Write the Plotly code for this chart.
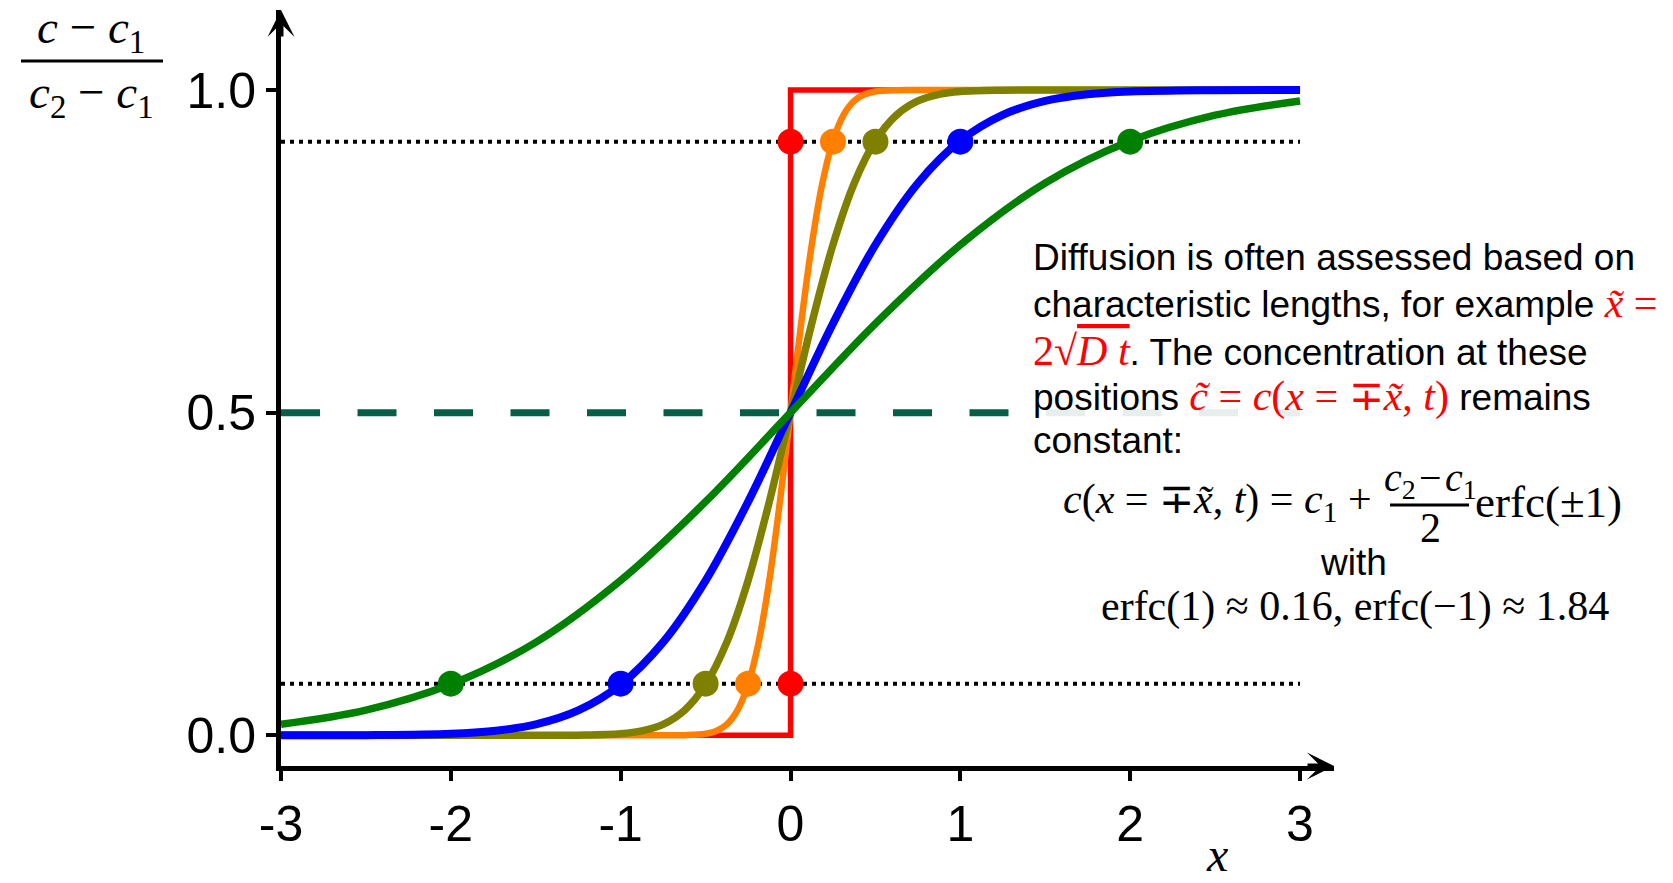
import plotly.graph_objects as go

# ---------------- data ----------------
x_red = [-3, 0, 0, 3]
y_red = [0, 0, 1, 1]

x_orange = [-3, -2, -1, -0.75, -0.625, -0.5, -0.4375, -0.375, -0.3125, -0.25, -0.1875, -0.125, -0.0625,
            0, 0.0625, 0.125, 0.1875, 0.25, 0.3125, 0.375, 0.4375, 0.5, 0.625, 0.75, 1, 2, 3]
y_orange = [0, 0, 0, 0, 0.0002, 0.0023, 0.0067, 0.0169, 0.0385, 0.0786, 0.1444, 0.2398, 0.3618,
            0.5, 0.6382, 0.7602, 0.8556, 0.9214, 0.9615, 0.9831, 0.9933, 0.9977, 0.9998, 1, 1, 1, 1]

x_olive = [-3, -2, -1.5, -1.25, -1, -0.875, -0.75, -0.625, -0.5, -0.375, -0.25, -0.125,
           0, 0.125, 0.25, 0.375, 0.5, 0.625, 0.75, 0.875, 1, 1.25, 1.5, 2, 3]
y_olive = [0, 0, 0, 0.0002, 0.0023, 0.0067, 0.0169, 0.0385, 0.0786, 0.1444, 0.2398, 0.3618,
           0.5, 0.6382, 0.7602, 0.8556, 0.9214, 0.9615, 0.9831, 0.9933, 0.9977, 0.9998, 1, 1, 1]

x_blue = [-3, -2.5, -2, -1.75, -1.5, -1.25, -1, -0.75, -0.5, -0.25,
          0, 0.25, 0.5, 0.75, 1, 1.25, 1.5, 1.75, 2, 2.5, 3]
y_blue = [0, 0.0002, 0.0023, 0.0067, 0.0169, 0.0385, 0.0786, 0.1444, 0.2398, 0.3618,
          0.5, 0.6382, 0.7602, 0.8556, 0.9214, 0.9615, 0.9831, 0.9933, 0.9977, 0.9998, 1]

x_green = [-3, -2.5, -2, -1.5, -1, -0.5, 0, 0.5, 1, 1.5, 2, 2.5, 3]
y_green = [0.017, 0.039, 0.079, 0.144, 0.240, 0.362, 0.5, 0.638, 0.760, 0.856, 0.921, 0.961, 0.983]

# characteristic lengths (positions of the dots) and the constant levels
char_lengths = [0, 0.25, 0.5, 1, 2]
level_low = 0.08
level_mid = 0.5
level_high = 0.92
x_span = [-3, 3]

x_tick_vals = [-3, -2, -1, 0, 1, 2, 3]
x_tick_text = ["-3", "-2", "-1", "0", "1", "2", "3"]
y_tick_vals = [0, 0.5, 1]
y_tick_text = ["0.0", "0.5", "1.0"]

# ---------------- styling ----------------
SANS = "Liberation Sans, Arial, sans-serif"
SERIF = "Liberation Serif, Times New Roman, serif"
colors = ["#ff0000", "#ff8000", "#808000", "#0000ff", "#008000"]
widths = [5.5, 6.5, 7.5, 8, 7.5]
curves = [(x_red, y_red), (x_orange, y_orange), (x_olive, y_olive), (x_blue, y_blue), (x_green, y_green)]

X_RANGE = [-3, 3.2]
Y_RANGE = [-0.0476, 1.124]
L, R, T, B = 281, 1334, 10, 766
W, H = R - L, B - T


def px(x):
    return (x - L) / W


def py(y):
    return (B - y) / H


fig = go.Figure()

# reference levels
for lv, dash, col, wd in [(level_mid, "39px,37.5px", "#065e46", 7),
                          (level_low, "4px,5px", "black", 4),
                          (level_high, "4px,5px", "black", 4)]:
    fig.add_trace(go.Scatter(x=x_span, y=[lv, lv], mode="lines",
                             line=dict(color=col, width=wd, dash=dash),
                             hoverinfo="skip", showlegend=False))

for (xs, ys), col, wd, xl in zip(curves, colors, widths, char_lengths):
    shape = "linear" if col == "#ff0000" else "spline"
    fig.add_trace(go.Scatter(x=xs, y=ys, mode="lines",
                             line=dict(color=col, width=wd, shape=shape),
                             showlegend=False, hoverinfo="skip"))
    fig.add_trace(go.Scatter(x=[-xl, xl], y=[level_low, level_high], mode="markers",
                             marker=dict(color=col, size=26, line=dict(width=0)),
                             showlegend=False, hoverinfo="skip"))

shapes = [
    # semi-transparent box behind the explanatory text
    dict(type="rect", xref="paper", yref="paper", x0=px(1018), x1=px(1665), y0=py(640), y1=py(226),
         fillcolor="rgba(255,255,255,0.9)", line=dict(width=0), layer="above"),
    # fraction bar of the y label
    dict(type="line", xref="paper", yref="paper", x0=px(21), x1=px(163), y0=py(61), y1=py(61),
         line=dict(color="black", width=3)),
    # fraction bar in the formula
    dict(type="line", xref="paper", yref="paper", x0=px(1390), x1=px(1469), y0=py(505), y1=py(505),
         line=dict(color="black", width=3)),
]

red = "color:#ff0000;font-family:Liberation Serif;font-size:42px"
para = [
    (257, "Diffusion is often assessed based on"),
    (303, 'characteristic lengths, for example <span style="%s"><i>x̃</i> =</span>' % red),
    (351, '<span style="%s">2√</span><span style="%s;text-decoration:overline"><i>D t</i></span>. The concentration at these' % (red, red)),
    (396, 'positions <span style="%s"><i>c̃</i> = <i>c</i>(<i>x</i> = ∓<i>x̃</i>, <i>t</i>)</span> remains' % red),
    (440, "constant:"),
]

ann = []
for yy, txt in para:
    ann.append(dict(x=px(1031), y=py(yy), xref="paper", yref="paper", xanchor="left", yanchor="middle",
                    text=txt, showarrow=False, font=dict(family=SANS, size=37, color="black")))

ann += [
    dict(x=px(1384), y=py(502), xref="paper", yref="paper", xanchor="right", yanchor="middle",
         text="<i>c</i>(<i>x</i> = ∓<i>x̃</i>, <i>t</i>) = <i>c</i><sub>1</sub> + ",
         showarrow=False, font=dict(family=SERIF, size=42, color="black")),
    dict(x=px(1430), y=py(480), xref="paper", yref="paper", xanchor="center", yanchor="middle",
         text="<i>c</i><sub>2</sub>\u200a−\u200a<i>c</i><sub>1</sub>",
         showarrow=False, font=dict(family=SERIF, size=40, color="black")),
    dict(x=px(1430), y=py(528), xref="paper", yref="paper", xanchor="center", yanchor="middle",
         text="2", showarrow=False, font=dict(family=SERIF, size=42, color="black")),
    dict(x=px(1473), y=py(502), xref="paper", yref="paper", xanchor="left", yanchor="middle",
         text="erfc(±1)", showarrow=False, font=dict(family=SERIF, size=45, color="black")),
    dict(x=px(1353), y=py(562), xref="paper", yref="paper", xanchor="center", yanchor="middle",
         text="with", showarrow=False, font=dict(family=SANS, size=37, color="black")),
    dict(x=px(1355), y=py(606), xref="paper", yref="paper", xanchor="center", yanchor="middle",
         text="erfc(1) ≈ 0.16, erfc(−1) ≈ 1.84", showarrow=False,
         font=dict(family=SERIF, size=42, color="black")),
    # y label as a fraction
    dict(x=px(91), y=py(30), xref="paper", yref="paper", xanchor="center", yanchor="middle",
         text="<i>c</i> − <i>c</i><sub>1</sub>", showarrow=False,
         font=dict(family=SERIF, size=47, color="black")),
    dict(x=px(91), y=py(95), xref="paper", yref="paper", xanchor="center", yanchor="middle",
         text="<i>c</i><sub>2</sub> − <i>c</i><sub>1</sub>", showarrow=False,
         font=dict(family=SERIF, size=47, color="black")),
    # x label
    dict(x=px(1217), y=py(882), xref="paper", yref="paper", xanchor="center", yanchor="bottom",
         text="<i>x</i>", showarrow=False, borderpad=0, font=dict(family=SERIF, size=48, color="black")),
    # axis arrows
    dict(x=X_RANGE[1], y=Y_RANGE[0], xref="x", yref="y", ax=-28, ay=0, text="",
         showarrow=True, arrowhead=3, arrowsize=0.9, arrowwidth=5, arrowcolor="black"),
    dict(x=X_RANGE[0], y=Y_RANGE[1], xref="x", yref="y", ax=0, ay=28, text="",
         showarrow=True, arrowhead=3, arrowsize=0.9, arrowwidth=5, arrowcolor="black"),
]

fig.update_layout(
    width=1673, height=883,
    margin=dict(l=L, r=1673 - R, t=T, b=883 - B),
    paper_bgcolor="white", plot_bgcolor="white",
    shapes=shapes, annotations=ann,
    xaxis=dict(range=X_RANGE, showgrid=False, zeroline=False, showline=True, linewidth=5,
               linecolor="black", ticks="outside", ticklen=10, tickwidth=4, tickcolor="black",
               tickvals=x_tick_vals, ticktext=x_tick_text,
               tickfont=dict(family=SANS, size=50, color="black")),
    yaxis=dict(range=Y_RANGE, showgrid=False, zeroline=False, showline=True, linewidth=5,
               linecolor="black", ticks="outside", ticklen=10, tickwidth=4, tickcolor="black",
               tickvals=y_tick_vals, ticktext=y_tick_text,
               tickfont=dict(family=SANS, size=50, color="black")),
)

fig.write_html("out.html")
